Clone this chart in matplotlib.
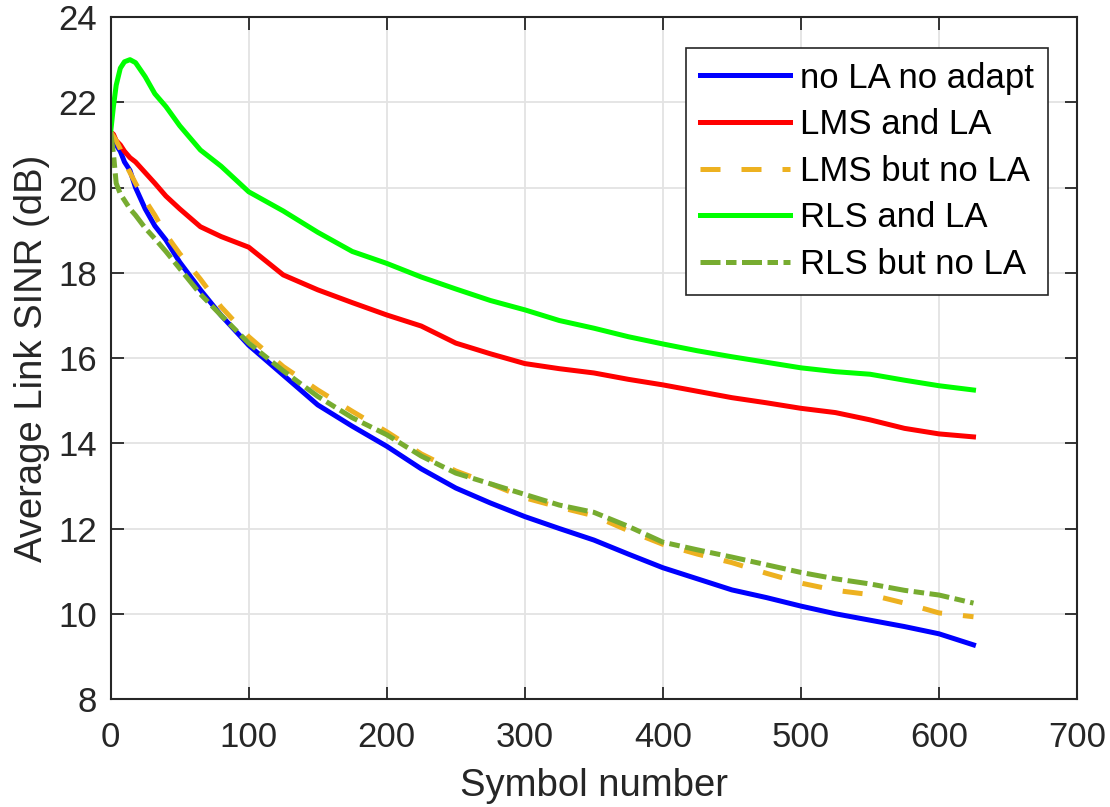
import matplotlib
matplotlib.use('Agg')
import matplotlib.pyplot as plt

plt.rcParams['font.family'] = ['Liberation Sans', 'DejaVu Sans']

# symbol index where each curve was sampled
symbols = [0, 2, 4, 7, 10, 14, 18, 25, 32, 40, 50, 65, 80, 100, 125, 150, 175, 200,
           225, 250, 275, 300, 325, 350, 375, 400, 425, 450, 475, 500, 525, 550,
           575, 600, 625]

no_la_no_adapt = [21.3, 21.2, 21.0, 20.85, 20.6, 20.4, 20.0, 19.5, 19.1, 18.77, 18.25,
                  17.6, 17.0, 16.3, 15.6, 14.9, 14.4, 13.93, 13.4, 12.95, 12.6, 12.28,
                  12.0, 11.73, 11.4, 11.08, 10.82, 10.56, 10.38, 10.18, 10.0, 9.85,
                  9.7, 9.53, 9.27]
lms_and_la = [21.3, 21.25, 21.1, 21.0, 20.85, 20.7, 20.6, 20.35, 20.1, 19.8, 19.5,
              19.08, 18.85, 18.6, 17.95, 17.6, 17.3, 17.01, 16.75, 16.35, 16.1, 15.87,
              15.75, 15.65, 15.5, 15.37, 15.22, 15.07, 14.95, 14.82, 14.72, 14.55,
              14.35, 14.22, 14.15]
lms_no_la = [21.3, 21.2, 21.1, 20.9, 20.6, 20.35, 20.1, 19.7, 19.35, 18.9, 18.45,
             17.85, 17.2, 16.5, 15.8, 15.25, 14.75, 14.27, 13.75, 13.35, 13.05, 12.72,
             12.5, 12.3, 11.95, 11.63, 11.4, 11.2, 10.95, 10.72, 10.55, 10.45,
             10.25, 10.02, 9.93]
rls_and_la = [21.3, 21.9, 22.4, 22.8, 22.95, 23.0, 22.93, 22.6, 22.2, 21.9, 21.45,
              20.88, 20.5, 19.9, 19.45, 18.95, 18.5, 18.22, 17.9, 17.62, 17.35, 17.13,
              16.88, 16.7, 16.5, 16.33, 16.17, 16.03, 15.9, 15.77, 15.68, 15.62,
              15.48, 15.35, 15.25]
rls_no_la = [21.3, 20.8, 20.1, 19.85, 19.7, 19.5, 19.35, 19.05, 18.8, 18.5, 18.1,
             17.5, 17.0, 16.35, 15.7, 15.1, 14.6, 14.2, 13.7, 13.3, 13.05, 12.8,
             12.55, 12.38, 12.05, 11.68, 11.5, 11.33, 11.15, 10.97, 10.82, 10.7,
             10.55, 10.44, 10.25]

TXT = '#262626'

fig = plt.figure(figsize=(11.1, 8.07), dpi=100)
ax = fig.add_axes([0.0997, 0.1338, 0.8706, 0.8451])

lw = 3.6
ax.plot(symbols, no_la_no_adapt, color='#0000ff', lw=lw, label='no LA no adapt')
ax.plot(symbols, lms_and_la, color='#ff0000', lw=lw, label='LMS and LA')
ax.plot(symbols, lms_no_la, color='#edb120', lw=lw, ls=(0, (4.0, 4.2)),
        label='LMS but no LA')
ax.plot(symbols, rls_and_la, color='#00ff00', lw=lw, label='RLS and LA')
ax.plot(symbols, rls_no_la, color='#77ac30', lw=lw, ls=(0, (4.0, 1.1, 2.1, 1.1)),
        label='RLS but no LA')

ax.set_xlim(0, 700)
ax.set_ylim(8, 24)
ax.set_xticks(range(0, 701, 100))
ax.set_yticks(range(8, 25, 2))
ax.grid(True, color='#e3e3e3', lw=1.3)
ax.set_axisbelow(True)

ax.tick_params(direction='in', length=9, width=1.3, colors=TXT, labelsize=25,
               top=True, right=True)
ax.tick_params(axis='x', pad=16)
ax.tick_params(axis='y', pad=10)
for sp in ax.spines.values():
    sp.set_color(TXT)
    sp.set_linewidth(1.5)

ax.set_xlabel('Symbol number', fontsize=27.5, color=TXT, labelpad=10)
ax.set_ylabel('Average Link SINR (dB)', fontsize=27.5, color=TXT, labelpad=6)

leg = ax.legend(loc='upper right', fontsize=25, handlelength=2.6, handletextpad=0.28,
                labelspacing=0.39, borderpad=0.4, borderaxespad=0.0,
                bbox_to_anchor=(0.9697, 0.955), fancybox=False, framealpha=1,
                edgecolor=TXT)
leg.get_frame().set_linewidth(1.2)

fig.savefig('out.png', dpi=100)
